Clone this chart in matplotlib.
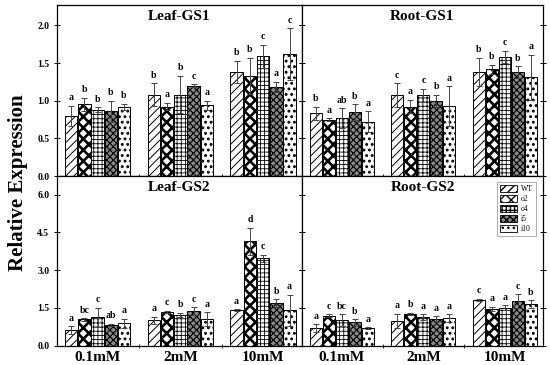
import numpy as np
import matplotlib
matplotlib.use("Agg")
import matplotlib.pyplot as plt
from matplotlib.patches import Patch

plt.rcParams['font.family'] = ['Liberation Serif', 'DejaVu Serif']
plt.rcParams['font.weight'] = 'bold'

# Data: [group][line]
groups = ['0.1mM', '2mM', '10mM']
lines = ['WT', 'o2', 'o4', 'i5', 'i10']

leaf_gs1_mean = [[0.80, 0.95, 0.88, 0.86, 0.92],
                 [1.08, 0.92, 1.08, 1.20, 0.94],
                 [1.38, 1.33, 1.59, 1.18, 1.62]]
leaf_gs1_err = [[0.13, 0.09, 0.03, 0.14, 0.04],
                [0.15, 0.05, 0.25, 0.02, 0.06],
                [0.15, 0.24, 0.15, 0.07, 0.34]]
leaf_gs1_sig = [['a', 'b', 'b', 'b', 'b'],
                ['b', 'a', 'b', 'c', 'a'],
                ['b', 'b', 'c', 'a', 'c']]

root_gs1_mean = [[0.83, 0.75, 0.77, 0.85, 0.72],
                 [1.07, 0.92, 1.07, 1.00, 0.93],
                 [1.38, 1.42, 1.58, 1.38, 1.31]]
root_gs1_err = [[0.09, 0.02, 0.13, 0.10, 0.14],
                [0.16, 0.09, 0.09, 0.08, 0.26],
                [0.19, 0.06, 0.08, 0.08, 0.30]]
root_gs1_sig = [['b', 'a', 'ab', 'b', 'a'],
                ['c', 'a', 'c', 'b', 'a'],
                ['b', 'b', 'c', 'b', 'a']]

leaf_gs2_mean = [[0.62, 1.05, 1.13, 0.82, 0.89],
                 [1.01, 1.34, 1.22, 1.36, 1.06],
                 [1.42, 4.15, 3.48, 1.68, 1.40]]
leaf_gs2_err = [[0.16, 0.05, 0.37, 0.05, 0.18],
                [0.14, 0.05, 0.09, 0.16, 0.26],
                [0.03, 0.53, 0.14, 0.16, 0.62]]
leaf_gs2_sig = [['a', 'bc', 'c', 'ab', 'a'],
                ['a', 'c', 'b', 'c', 'a'],
                ['a', 'd', 'c', 'b', 'a']]

root_gs2_mean = [[0.70, 1.19, 1.01, 0.93, 0.69],
                 [0.98, 1.26, 1.14, 1.07, 1.11],
                 [1.83, 1.47, 1.50, 1.77, 1.64]]
root_gs2_err = [[0.15, 0.05, 0.24, 0.13, 0.04],
                [0.29, 0.05, 0.12, 0.11, 0.15],
                [0.04, 0.08, 0.10, 0.28, 0.16]]
root_gs2_sig = [['a', 'c', 'bc', 'b', 'a'],
                ['a', 'b', 'a', 'a', 'a'],
                ['c', 'a', 'a', 'c', 'b']]

# bar styles per line
hatches = ['////', 'xxx', '++++', 'xxxxx', '...']
faces = ['white', 'white', 'white', '#888888', 'white']
hatch_lw = [0.7, 1.9, 0.6, 0.8, 1.3]

fig = plt.figure(figsize=(5.5, 3.65), dpi=100)
x0, xm, x1 = 57 / 550, 302 / 550, 543 / 550
yt, ym, yb = 1 - 5 / 365, 1 - 176 / 365, 1 - 345.7 / 365
ax_lt = fig.add_axes([x0, ym, xm - x0, yt - ym])
ax_rt = fig.add_axes([xm, ym, x1 - xm, yt - ym])
ax_lb = fig.add_axes([x0, yb, xm - x0, ym - yb])
ax_rb = fig.add_axes([xm, yb, x1 - xm, ym - yb])

width = 0.16
xg = np.arange(len(groups))


def draw_panel(ax, mean, err, sig, title, ylim, yticks, show_ylab, show_xlab):
    mean = np.array(mean)
    err = np.array(err)
    for i, ln in enumerate(lines):
        pos = xg + (i - 2) * width
        with plt.rc_context({'hatch.linewidth': hatch_lw[i]}):
            bars = ax.bar(pos, mean[:, i], width * 0.94, color=faces[i],
                          edgecolor='black', linewidth=0.7, hatch=hatches[i])
            for b in bars:
                if hasattr(b, 'set_hatch_linewidth'):
                    b.set_hatch_linewidth(hatch_lw[i])
        ax.errorbar(pos, mean[:, i], yerr=err[:, i], fmt='none',
                    ecolor='#444444', elinewidth=0.7, capsize=2, capthick=0.7)
        for g in range(len(groups)):
            ax.annotate(sig[g][i], (pos[g], mean[g, i] + err[g, i]),
                        xytext=(0, 2.5), textcoords='offset points',
                        ha='center', va='bottom', fontsize=7, fontweight='bold')
    ax.set_xlim(-0.49, 2.47)
    ax.set_ylim(*ylim)
    ax.set_yticks(yticks)
    ax.set_xticks(xg)
    ax.set_xticks([0.5, 1.5], minor=True)
    ax.tick_params(axis='x', which='major', length=0, labelsize=11, pad=4)
    ax.tick_params(axis='x', which='minor', length=3, direction='inout')
    ax.tick_params(axis='y', which='major', length=4, direction='inout',
                   left=True, right=True, labelsize=7, width=0.7)
    if show_xlab:
        ax.set_xticklabels(groups, fontweight='bold')
    else:
        ax.set_xticklabels([])
    if show_ylab:
        ax.set_yticklabels(['%.1f' % t for t in yticks], fontweight='bold')
    else:
        ax.set_yticklabels([])
    ax.text(0.5, 0.93, title, transform=ax.transAxes, ha='center', va='center',
            fontsize=11, fontweight='bold')
    for s in ax.spines.values():
        s.set_linewidth(0.9)


top_ticks = [0.0, 0.5, 1.0, 1.5, 2.0]
bot_ticks = [0.0, 1.5, 3.0, 4.5, 6.0]
draw_panel(ax_lt, leaf_gs1_mean, leaf_gs1_err, leaf_gs1_sig, 'Leaf-GS1',
           (0, 2.27), top_ticks, True, False)
draw_panel(ax_rt, root_gs1_mean, root_gs1_err, root_gs1_sig, 'Root-GS1',
           (0, 2.27), top_ticks, False, False)
draw_panel(ax_lb, leaf_gs2_mean, leaf_gs2_err, leaf_gs2_sig, 'Leaf-GS2',
           (0, 6.74), bot_ticks, True, True)
draw_panel(ax_rb, root_gs2_mean, root_gs2_err, root_gs2_sig, 'Root-GS2',
           (0, 6.74), bot_ticks, False, True)

handles = []
for i, ln in enumerate(lines):
    with plt.rc_context({'hatch.linewidth': hatch_lw[i]}):
        h = Patch(facecolor=faces[i], edgecolor='black', linewidth=0.6,
                  hatch=hatches[i], label=ln)
        if hasattr(h, 'set_hatch_linewidth'):
            h.set_hatch_linewidth(hatch_lw[i])
    handles.append(h)
leg = ax_rb.legend(handles=handles, loc='upper right',
                   prop={'family': 'Liberation Serif', 'weight': 'normal', 'size': 5.5},
                   frameon=True, fancybox=False, edgecolor='#888888',
                   handlelength=2.2, handleheight=1.0, labelspacing=0.25,
                   borderpad=0.4, handletextpad=0.5, bbox_to_anchor=(0.985, 0.985))
leg.get_frame().set_linewidth(0.6)

fig.text(0.033, 0.50, 'Relative Expression', rotation=90, ha='center', va='center',
         fontsize=15, fontweight='bold')

fig.savefig('out.png', dpi=100)
